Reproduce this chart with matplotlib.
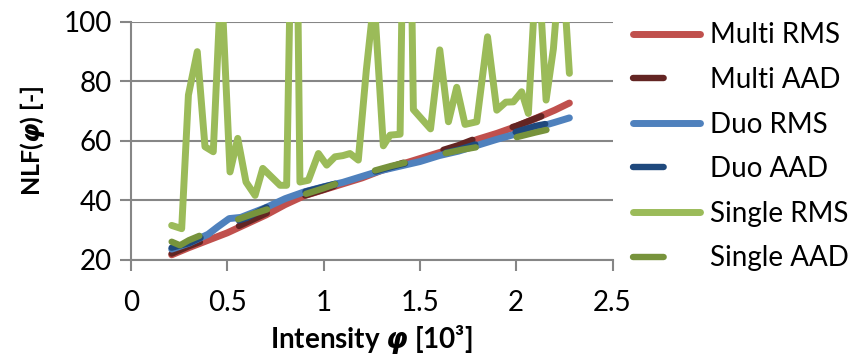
import numpy as np
import matplotlib.pyplot as plt

# ----------------------------------------------------------------------
# Nonlinearity factor vs. intensity for the three setups (RMS and AAD)
# ----------------------------------------------------------------------
x_multi = [0.211, 0.3, 0.4, 0.5, 0.6, 0.7, 0.8, 0.9, 1.0, 1.1, 1.2, 1.3,
           1.4, 1.5, 1.6, 1.7, 1.8, 1.9, 2.0, 2.1, 2.2, 2.276]
multi_rms = [21.6, 24.0, 26.5, 29.0, 32.0, 35.0, 38.5, 41.5, 43.5, 45.5,
             47.5, 50.0, 52.0, 54.0, 56.0, 58.0, 60.5, 62.5, 64.8, 67.5,
             70.3, 72.7]

x_multi_aad = [0.211, 0.3, 0.4, 0.5, 0.6, 0.7, 0.8, 0.9, 1.0, 1.1, 1.2,
               1.3, 1.4, 1.5, 1.6, 1.7, 1.8, 1.9, 2.0, 2.1, 2.18]
multi_aad = [22.0, 24.5, 27.0, 29.5, 32.5, 35.5, 38.5, 41.5, 43.5, 45.8,
             48.0, 50.2, 52.3, 54.5, 56.5, 58.5, 61.0, 63.0, 65.0, 67.5,
             69.5]

x_duo = [0.211, 0.3, 0.4, 0.45, 0.51, 0.57, 0.7, 0.8, 0.9, 1.0, 1.1, 1.2,
         1.3, 1.4, 1.5, 1.6, 1.7, 1.8, 1.9, 2.0, 2.1, 2.2, 2.276]
duo_rms = [23.5, 25.5, 28.5, 31.0, 33.8, 34.2, 37.5, 40.5, 42.8, 44.5,
           46.0, 48.0, 50.0, 51.5, 53.0, 55.0, 56.5, 58.5, 60.5, 62.3,
           64.3, 66.2, 67.7]

x_duo_aad = [0.211, 0.3, 0.4, 0.5, 0.6, 0.7, 0.8, 0.9, 1.0, 1.1, 1.2, 1.3,
             1.4, 1.5, 1.6, 1.7, 1.8, 1.9, 2.0, 2.1, 2.18]
duo_aad = [24.0, 25.5, 28.5, 32.0, 34.0, 37.5, 40.5, 42.8, 44.5, 46.2,
           48.2, 50.3, 52.0, 53.5, 55.5, 57.0, 59.0, 61.0, 63.0, 65.0, 66.0]

x_single = [0.211, 0.263, 0.298, 0.344, 0.384, 0.427, 0.468, 0.514, 0.554,
            0.597, 0.644, 0.684, 0.774, 0.808, 0.850, 0.877, 0.921, 0.973,
            1.016, 1.059, 1.100, 1.137, 1.180, 1.222, 1.262, 1.310, 1.345,
            1.397, 1.432, 1.466, 1.555, 1.603, 1.648, 1.691, 1.734, 1.795,
            1.851, 1.899, 1.946, 1.985, 2.028, 2.063, 2.110, 2.155, 2.193,
            2.235, 2.276]
single_rms = [31.5, 30.4, 75.4, 90.0, 58.0, 56.3, 115.0, 49.5, 60.8, 46.1,
              41.6, 50.7, 45.0, 45.0, 200.0, 46.1, 46.7, 55.7, 51.8, 54.6,
              55.0, 55.7, 53.5, 84.0, 108.0, 58.3, 61.9, 62.2, 220.0, 70.5,
              64.0, 90.6, 66.4, 78.0, 65.5, 66.4, 95.0, 70.3, 73.0, 73.1,
              76.5, 69.2, 125.0, 73.7, 91.0, 125.0, 82.7]

x_single_aad = [0.211, 0.254, 0.3, 0.37, 0.45, 0.566, 0.64, 0.722, 0.8,
                0.912, 1.0, 1.068, 1.17, 1.267, 1.35, 1.449, 1.55, 1.639,
                1.72, 1.81, 1.9, 2.02, 2.1, 2.18]
single_aad = [26.0, 24.8, 26.5, 28.4, 31.0, 33.8, 35.5, 37.2, 40.0, 42.2,
              44.0, 45.6, 47.5, 50.0, 51.5, 53.0, 54.8, 55.9, 57.0, 58.0,
              59.5, 61.5, 62.8, 64.0]

x_ticks = [0, 0.5, 1, 1.5, 2, 2.5]
y_ticks = [20, 40, 60, 80, 100]

plt.rcParams["font.family"] = ["Lato", "DejaVu Sans"]
plt.rcParams["mathtext.fontset"] = "custom"
plt.rcParams["mathtext.it"] = "DejaVu Sans:italic:bold"

fig = plt.figure(figsize=(8.53, 3.6), dpi=100)
ax = fig.add_axes([0.1536, 0.279, 0.5645, 0.660])

RMS_LW = 5.0
AAD_LW = 4.6
dash = (4.8, 6.6)

series = [
    (x_multi, multi_rms, "Multi RMS", "#C0504D", "-"),
    (x_multi_aad, multi_aad, "Multi AAD", "#632523", "--"),
    (x_duo, duo_rms, "Duo RMS", "#4F81BD", "-"),
    (x_duo_aad, duo_aad, "Duo AAD", "#1F497D", "--"),
    (x_single, single_rms, "Single RMS", "#9BBB59", "-"),
    (x_single_aad, single_aad, "Single AAD", "#77933C", "--"),
]

for xs, ys, label, color, ls in series:
    if ls == "-":
        ax.plot(xs, ys, color=color, lw=RMS_LW, label=label,
                solid_capstyle="round", solid_joinstyle="round")
    else:
        ax.plot(xs, ys, color=color, lw=AAD_LW, label=label,
                dashes=dash, dash_capstyle="round", dash_joinstyle="round")

ax.set_xlim(0, 2.5)
ax.set_ylim(20, 100)
ax.set_xticks(x_ticks)
ax.set_xticklabels(["0", "0.5", "1", "1.5", "2", "2.5"])
ax.set_yticks(y_ticks)

grid_c = "#868686"
ax.yaxis.grid(True, color=grid_c, lw=1.5)
ax.set_axisbelow(True)
for side in ("top", "right"):
    ax.spines[side].set_visible(False)
for side in ("left", "bottom"):
    ax.spines[side].set_color(grid_c)
    ax.spines[side].set_linewidth(1.5)
ax.tick_params(axis="both", direction="out", length=8, width=1.5,
               color=grid_c, labelsize=20)
ax.tick_params(axis="x", pad=14)
ax.tick_params(axis="y", pad=6)

ax.set_xlabel(r"Intensity $\varphi$ [10³]", fontsize=20, fontweight="bold",
              labelpad=5)
ax.set_ylabel(r"NLF($\varphi$) [-]", fontsize=18, fontweight="bold",
              labelpad=12)

ax.legend(loc="upper left", bbox_to_anchor=(1.02, 1.045), frameon=False,
          fontsize=20, handlelength=2.41, handletextpad=0.36,
          labelspacing=0.67, borderaxespad=0)

fig.savefig("out.png", dpi=100)
